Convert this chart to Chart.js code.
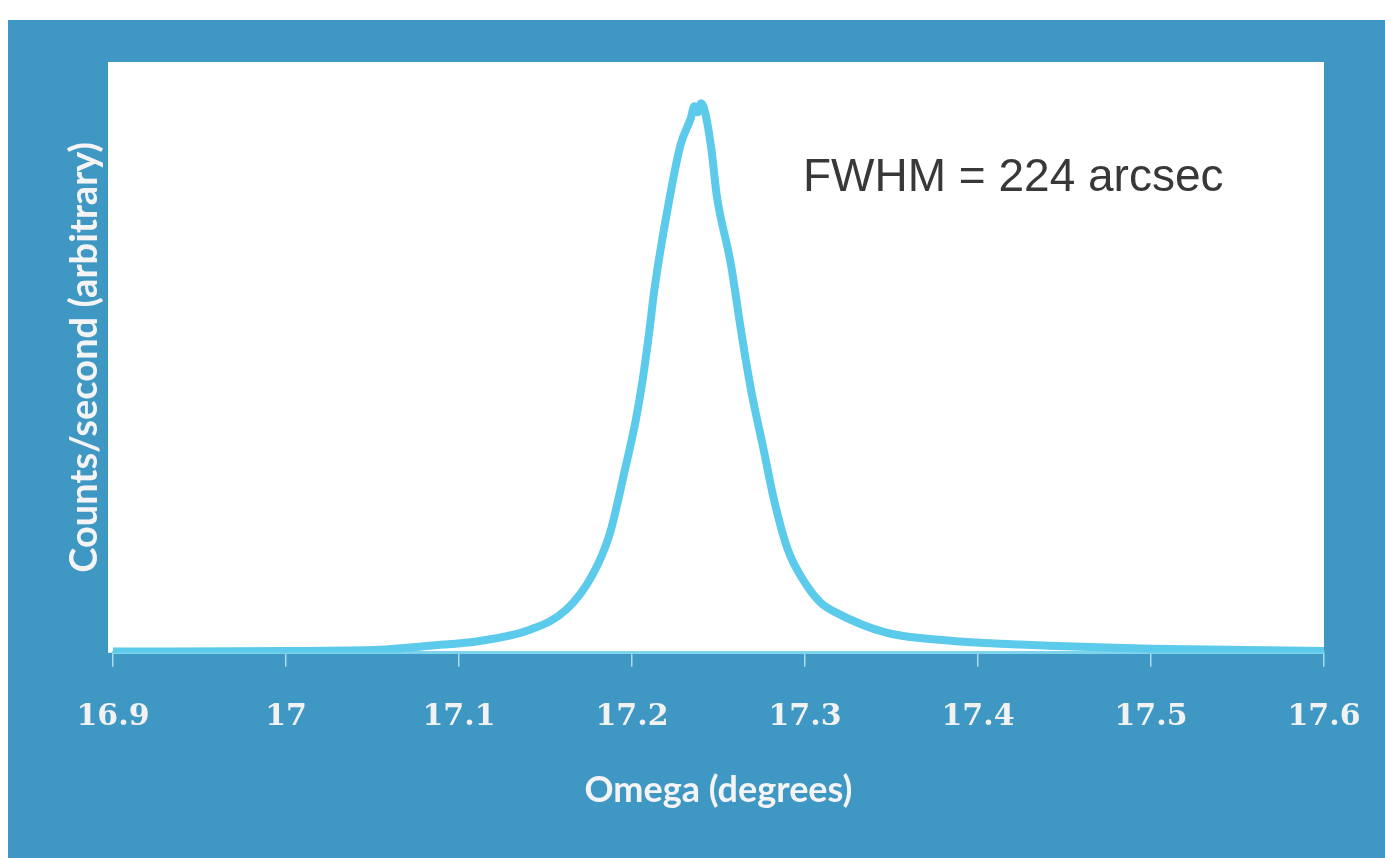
<!DOCTYPE html>
<html>
<head>
<meta charset="utf-8">
<title>Omega scan</title>
<script src="https://cdn.jsdelivr.net/npm/chart.js@4/dist/chart.umd.min.js"></script>
<style>
  html, body { margin: 0; padding: 0; background: #ffffff; }
  #panel {
    position: absolute; left: 8px; top: 20px;
    width: 1377px; height: 838px;
    background: #3f97c3;
  }
</style>
</head>
<body>
<div id="panel"><canvas id="rockingCurve" width="1377" height="838"></canvas></div>
<script>
// omega positions (degrees)
const omega = [16.9, 17.0, 17.054, 17.083, 17.112, 17.141, 17.162, 17.177, 17.187, 17.196,
  17.202, 17.206, 17.210, 17.213, 17.222, 17.228, 17.234, 17.236, 17.238, 17.240, 17.242,
  17.246, 17.249, 17.257, 17.264, 17.269, 17.276, 17.282, 17.290, 17.301, 17.309, 17.318,
  17.347, 17.386, 17.424, 17.5, 17.6];
// counts/second, arbitrary scale (peak ~0.93)
const counts = [0.002, 0.003, 0.005, 0.012, 0.020, 0.039, 0.073, 0.131, 0.200, 0.311,
  0.391, 0.459, 0.544, 0.616, 0.774, 0.859, 0.905, 0.925, 0.915, 0.930, 0.918,
  0.850, 0.774, 0.660, 0.527, 0.442, 0.345, 0.260, 0.175, 0.114, 0.085, 0.068,
  0.034, 0.020, 0.014, 0.007, 0.003];
const xTicks = [16.9, 17.0, 17.1, 17.2, 17.3, 17.4, 17.5, 17.6];
const note = 'FWHM = 224 arcsec';

const points = omega.map((x, i) => ({ x: x, y: counts[i] }));

// white plot area
const plotBackground = {
  id: 'plotBackground',
  beforeDraw(chart) {
    const { ctx, chartArea } = chart;
    ctx.save();
    ctx.fillStyle = '#ffffff';
    ctx.fillRect(chartArea.left - 5, chartArea.top, chartArea.right - chartArea.left + 5, chartArea.bottom - chartArea.top);
    ctx.restore();
  }
};

// FWHM label
const fwhmNote = {
  id: 'fwhmNote',
  afterDraw(chart) {
    const { ctx, chartArea } = chart;
    ctx.save();
    ctx.fillStyle = '#383838';
    ctx.font = '46px "Liberation Sans", Arial, sans-serif';
    ctx.textBaseline = 'alphabetic';
    ctx.fillText(note, chartArea.left + 690, chartArea.top + 129);
    ctx.restore();
  }
};

new Chart(document.getElementById('rockingCurve').getContext('2d'), {
  type: 'line',
  data: {
    datasets: [{
      label: 'Counts/second',
      data: points,
      borderColor: '#5ccaea',
      borderWidth: 8,
      pointRadius: 0,
      fill: false,
      cubicInterpolationMode: 'monotone'
    }]
  },
  options: {
    responsive: false,
    animation: false,
    layout: { padding: { left: 41, right: 61, top: 42, bottom: 44 } },
    plugins: { legend: { display: false }, tooltip: { enabled: false } },
    scales: {
      x: {
        type: 'linear',
        min: 16.9,
        max: 17.6,
        afterBuildTicks(scale) { scale.ticks = xTicks.map(v => ({ value: v })); },
        afterFit(scale) { scale.paddingRight = 0; },
        ticks: {
          color: '#f2f2f2',
          padding: 32,
          font: { family: '"DejaVu Serif", serif', size: 30, weight: 'bold', lineHeight: 1.2 },
          callback: v => String(v)
        },
        grid: { drawOnChartArea: false, tickLength: 14, color: '#a9dcee', lineWidth: 1.5 },
        border: { display: true, color: '#7fd3ec', width: 3 },
        title: {
          display: true,
          text: 'Omega (degrees)',
          color: '#f4f4f4',
          padding: { top: 2, bottom: 2 },
          font: { family: 'Lato, sans-serif', size: 36, weight: 'bold', lineHeight: 1.2 }
        }
      },
      y: {
        min: 0,
        max: 1,
        ticks: { display: false },
        grid: { display: false },
        border: { display: false },
        title: {
          display: true,
          text: 'Counts/second (arbitrary)',
          color: '#f4f4f4',
          padding: { top: 17, bottom: 1 },
          font: { family: 'Lato, sans-serif', size: 38, weight: 'bold', lineHeight: 1.0 }
        }
      }
    }
  },
  plugins: [plotBackground, fwhmNote]
});
</script>
</body>
</html>
